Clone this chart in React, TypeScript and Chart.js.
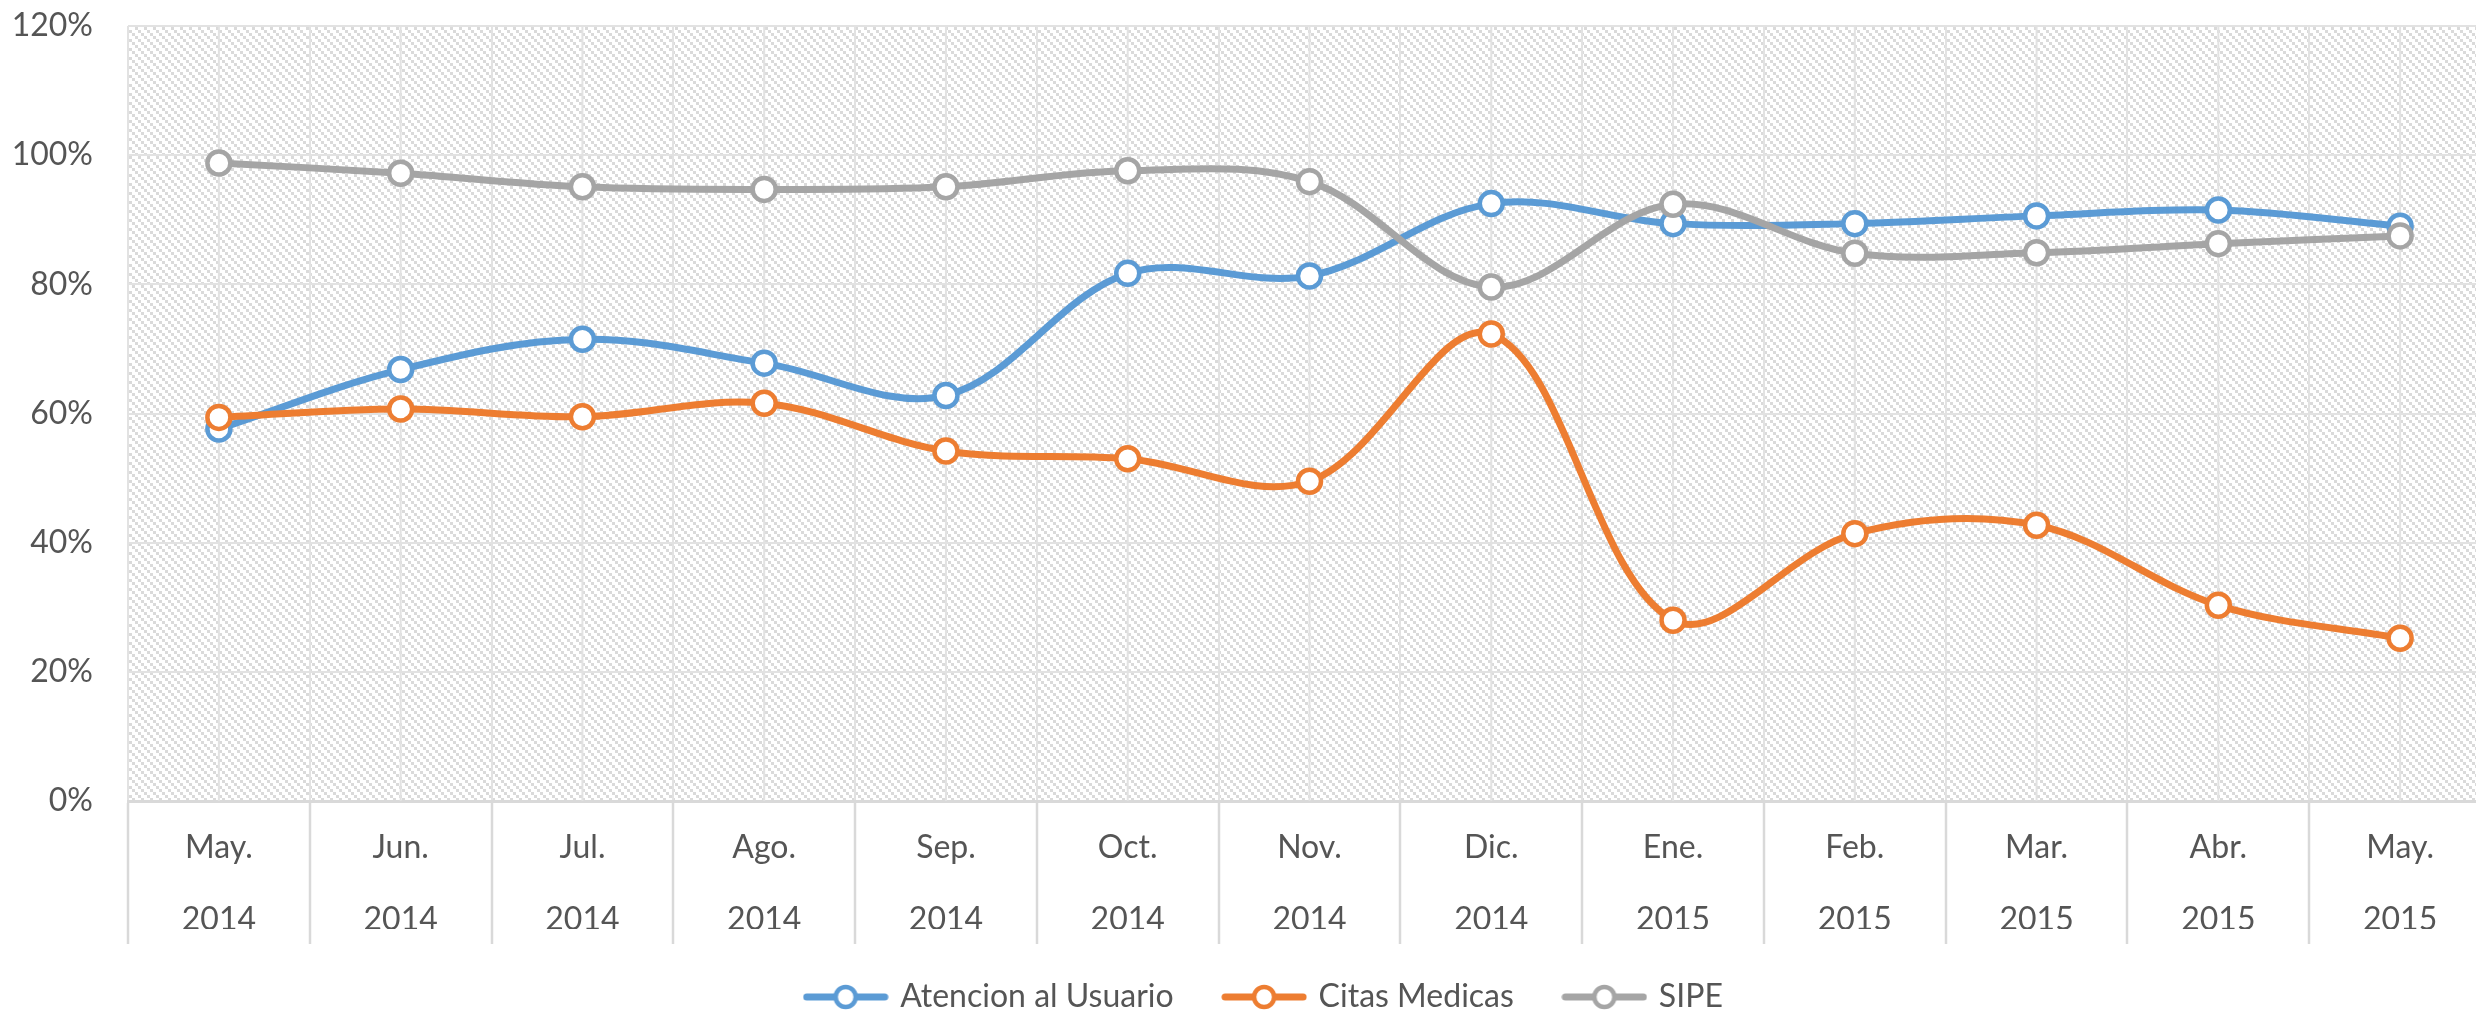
import React, { useEffect, useRef } from "react";
import { Chart, registerables } from "chart.js";

Chart.register(...registerables);

// ---- Data ----
const months = ["May.", "Jun.", "Jul.", "Ago.", "Sep.", "Oct.", "Nov.", "Dic.", "Ene.", "Feb.", "Mar.", "Abr.", "May."];
const years = ["2014", "2014", "2014", "2014", "2014", "2014", "2014", "2014", "2015", "2015", "2015", "2015", "2015"];

const atencionAlUsuario = [57.6, 66.8, 71.5, 67.8, 62.8, 81.7, 81.3, 92.5, 89.4, 89.4, 90.6, 91.5, 89.0];
const citasMedicas = [59.4, 60.7, 59.5, 61.6, 54.2, 53.0, 49.5, 72.3, 28.0, 41.4, 42.7, 30.3, 25.2];
const sipe = [98.8, 97.2, 95.1, 94.7, 95.1, 97.6, 95.9, 79.6, 92.4, 84.8, 84.9, 86.3, 87.5];

const seriesNames = ["Atencion al Usuario", "Citas Medicas", "SIPE"];
const seriesColors = ["#5B9BD5", "#ED7D31", "#A5A5A5"];

const yMin = 0;
const yMax = 120;
const yStep = 20;

// ---- Style ----
const FONT = "Lato";
const FONT_SIZE = 32;
const TEXT = "#555555";
const GRID = "#E2E2E2";
const AXIS = "#D9D9D9";
const HATCH = "#DADADA";

const W = 2530;
const H = 1023;

function makeLegendImg(color: string) {
  const c = document.createElement("canvas");
  c.width = 86;
  c.height = 34;
  const g = c.getContext("2d")!;
  g.strokeStyle = color;
  g.lineCap = "round";
  g.lineWidth = 7;
  g.beginPath();
  g.moveTo(4, 17);
  g.lineTo(82, 17);
  g.stroke();
  g.beginPath();
  g.arc(43, 17, 10, 0, Math.PI * 2);
  g.fillStyle = "#ffffff";
  g.fill();
  g.lineWidth = 4.5;
  g.stroke();
  return c;
}

const hatchPlugin = {
  id: "hatchBg",
  beforeDraw(chart: any) {
    const { ctx, chartArea } = chart;
    if (!chartArea) return;
    const tile = document.createElement("canvas");
    tile.width = 9;
    tile.height = 9;
    const t = tile.getContext("2d")!;
    t.fillStyle = "#ffffff";
    t.fillRect(0, 0, 9, 9);
    t.fillStyle = HATCH;
    for (let cy = 0; cy < 3; cy++) {
      for (let cx = 0; cx < 3; cx++) {
        if ((cx - cy + 3) % 3 === 0) t.fillRect(cx * 3, cy * 3, 3, 3);
      }
    }
    const pat = ctx.createPattern(tile, "repeat");
    ctx.save();
    ctx.fillStyle = pat;
    ctx.fillRect(chartArea.left, chartArea.top, chartArea.right - chartArea.left, chartArea.bottom - chartArea.top);
    ctx.restore();
  },
  beforeDatasetsDraw(chart: any) {
    const { ctx, chartArea } = chart;
    const xs = chart.scales.x;
    ctx.save();
    ctx.strokeStyle = GRID;
    ctx.lineWidth = 2;
    for (let i = 0; i < months.length; i++) {
      const px = xs.getPixelForValue(i);
      ctx.beginPath();
      ctx.moveTo(px, chartArea.top);
      ctx.lineTo(px, chartArea.bottom);
      ctx.stroke();
    }
    ctx.restore();
  },
};

export default function App() {
  const ref = useRef<HTMLCanvasElement | null>(null);

  useEffect(() => {
    let chart: Chart | null = null;
    let cancelled = false;

    const build = () => {
      if (cancelled || !ref.current) return;
      const legendImgs = seriesColors.map(makeLegendImg);
      const labels = months.map((m, i) => [m, years[i]]);
      const seriesData = [atencionAlUsuario, citasMedicas, sipe];

      chart = new Chart(ref.current, {
        type: "line",
        data: {
          labels,
          datasets: seriesData.map((d, i) => ({
            label: seriesNames[i],
            data: d,
            borderColor: seriesColors[i],
            backgroundColor: seriesColors[i],
            borderWidth: 7,
            tension: 0.35,
            pointRadius: 11.5,
            pointBorderWidth: 4.5,
            pointBackgroundColor: "#ffffff",
            pointBorderColor: seriesColors[i],
            order: 3 - i,
            clip: false as any,
            yAxisID: "y",
          })),
        },
        options: {
          animation: false,
          responsive: false,
          layout: { padding: { left: 0, right: 0, top: 26, bottom: 0 } },
          plugins: {
            tooltip: { enabled: false },
            legend: {
              position: "bottom",
              labels: {
                usePointStyle: true,
                pointStyleWidth: 77,
                padding: 52,
                color: TEXT,
                font: { family: FONT, size: FONT_SIZE },
                generateLabels: (c: any) => {
                  const items = (Chart.defaults.plugins.legend.labels as any).generateLabels(c);
                  items.sort((a: any, b: any) => a.datasetIndex - b.datasetIndex);
                  return items.map((it: any) => ({ ...it, pointStyle: legendImgs[it.datasetIndex] }));
                },
              },
            },
          },
          scales: {
            x: {
              type: "category",
              offset: true,
              grid: {
                offset: true,
                color: GRID,
                lineWidth: 2,
                tickColor: AXIS,
                tickWidth: 2.5,
                tickLength: 143,
                drawOnChartArea: true,
              },
              border: { display: true, color: AXIS, width: 3 },
              ticks: {
                color: TEXT,
                font: { family: FONT, size: FONT_SIZE, lineHeight: 2.25 },
                padding: -132,
                maxRotation: 0,
                minRotation: 0,
                autoSkip: false,
              },
              afterFit: (s: any) => {
                s.height = 128;
              },
            },
            y: {
              min: yMin,
              max: yMax,
              grid: { color: GRID, lineWidth: 2, drawTicks: false },
              border: { display: false },
              ticks: {
                stepSize: yStep,
                color: TEXT,
                font: { family: FONT, size: FONT_SIZE },
                padding: 35,
                callback: (v: any) => `${v}%`,
              },
              afterFit: (s: any) => {
                s.width = 128;
                s.paddingTop = 0;
                s.paddingBottom = 0;
              },
            },
            yRightSpace: {
              position: "right",
              display: true,
              grid: { drawOnChartArea: false, drawTicks: false },
              border: { display: false },
              ticks: { display: false, padding: 0 },
              afterFit: (s: any) => {
                s.width = 39;
                s.paddingTop = 0;
                s.paddingBottom = 0;
              },
            },
          },
        },
        plugins: [hatchPlugin],
      });
    };

    const fontsApi = (document as any).fonts;
    if (fontsApi && fontsApi.load) {
      fontsApi.load(`${FONT_SIZE}px ${FONT}`).then(build, build);
    } else {
      build();
    }

    return () => {
      cancelled = true;
      if (chart) chart.destroy();
    };
  }, []);

  return (
    <div style={{ position: "fixed", left: 0, top: 0, width: "100vw", height: "100vh", overflow: "hidden", background: "#fff" }}>
      <canvas ref={ref} width={W} height={H} style={{ width: W, height: H, display: "block" }} />
    </div>
  );
}
